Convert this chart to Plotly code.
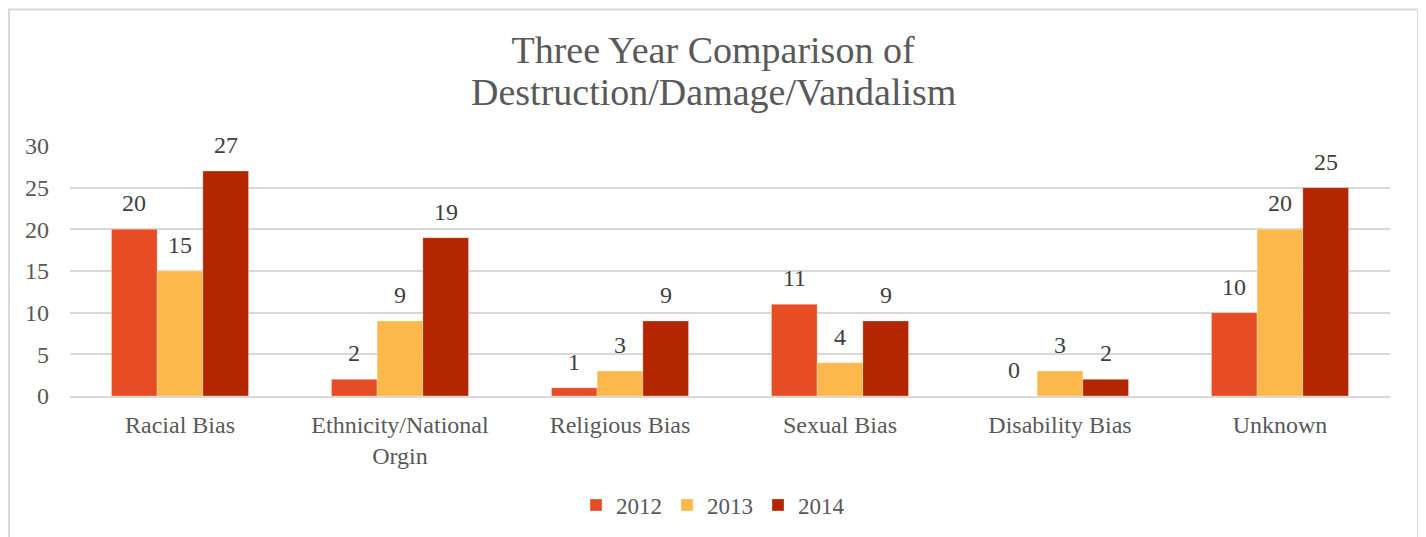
import plotly.graph_objects as go

categories = ["Racial Bias", "Ethnicity/National<br>Orgin", "Religious Bias", "Sexual Bias", "Disability Bias", "Unknown"]
years = ["2012", "2013", "2014"]
values_2012 = [20, 2, 1, 11, 0, 10]
values_2013 = [15, 9, 3, 4, 3, 20]
values_2014 = [27, 19, 9, 9, 2, 25]
colors = ["#E64D25", "#FCB84A", "#B32600"]

FONT = "Liberation Serif, Times New Roman, serif"

# page body has an 8px offset; work in figure coordinates (screen - 8)
OFF = 8
W, H = 1426 - OFF, 537 - OFF
L, R = 70 - OFF, 36
T, B = 146 - OFF, 140
pw, ph = W - L - R, H - T - B
BARGAP = 0.377

def px_x(p):
    return (p - OFF - L) / pw

def px_y(p):
    return (H - B - (p - OFF)) / ph

fig = go.Figure()
series = [values_2012, values_2013, values_2014]
for name, vals, col in zip(years, series, colors):
    fig.add_trace(go.Bar(
        x=categories, y=vals, name=name,
        marker=dict(color=col, line=dict(color="rgba(255,255,255,0.6)", width=0.5)),
        cliponaxis=False,
    ))

# data labels above each bar
cat_w = pw / len(categories)
bar_w = cat_w * (1 - BARGAP) / len(years)
annotations = []
for i, vals in enumerate(series):
    for c, v in zip(categories, vals):
        annotations.append(dict(
            x=c, y=v, xref="x", yref="y", text=str(v), showarrow=False,
            xshift=(i - 1) * bar_w, yshift=11, yanchor="bottom",
            font=dict(family=FONT, size=24, color="#404040")))

annotations.append(dict(
    text="Destruction/Damage/Vandalism", showarrow=False,
    xref="paper", yref="paper", x=0.5 + (713 - OFF - L - pw / 2) / pw, xanchor="center",
    y=px_y(92), yanchor="middle",
    font=dict(family=FONT, size=38, color="#595959")))

fig.update_layout(
    width=W, height=H,
    margin=dict(l=L, r=R, t=T, b=B),
    paper_bgcolor="white", plot_bgcolor="white",
    font=dict(family=FONT, color="#595959", size=24),
    title=dict(text="Three Year Comparison of",
               x=(713 - OFF) / W, xanchor="center", xref="container",
               y=1 - (50 - OFF) / H, yanchor="middle", yref="container",
               font=dict(family=FONT, size=38, color="#595959")),
    barmode="group", bargap=BARGAP, bargroupgap=0,
    showlegend=True,
    legend=dict(orientation="h", x=0.5 + (713 - OFF - L - pw / 2) / pw, xanchor="center",
                y=px_y(505), yanchor="middle",
                font=dict(family=FONT, size=23, color="#595959"),
                itemwidth=30, traceorder="normal"),
    xaxis=dict(showgrid=False, showline=True, linecolor="#D9D9D9", linewidth=2,
               tickfont=dict(family=FONT, size=24, color="#595959"), ticks="",
               ticklabelstandoff=6),
    yaxis=dict(range=[0, 30], dtick=5, showgrid=True, gridcolor="#D9D9D9", gridwidth=1.5,
               zeroline=False, showline=False, ticks="",
               tickfont=dict(family=FONT, size=24, color="#595959"), ticklabelstandoff=20),
    annotations=annotations,
    shapes=[dict(type="rect", xref="paper", yref="paper",
                 x0=px_x(9), x1=px_x(1418), y0=px_y(570), y1=px_y(9),
                 line=dict(color="#D9D9D9", width=2), fillcolor="rgba(0,0,0,0)", layer="below")],
)

fig.write_html("out.html")
